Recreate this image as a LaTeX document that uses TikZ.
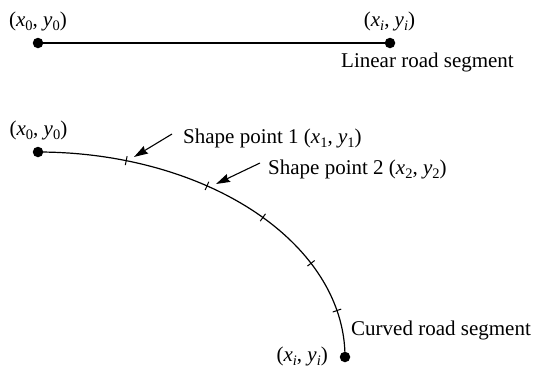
\documentclass[tikz,border=0pt]{standalone}
\usepackage{fontspec}
\setmainfont{Liberation Serif}
\usepackage{graphicx}
\usetikzlibrary{arrows.meta}
\newcommand{\iv}[1]{\textit{#1}}
\newcommand{\lo}[1]{\raisebox{-0.22em}{\fontsize{14.5}{14.5}\selectfont #1}}
\tikzset{
  dot/.style={circle,fill=black,inner sep=0pt,minimum size=10.5pt},
  lab/.style={inner sep=0pt,font=\fontsize{21}{25}\selectfont},
  road/.style={line width=1.2pt},
  tick/.style={line width=1pt},
  pointer/.style={line width=1.1pt,-{Stealth[length=14pt,width=8.5pt,inset=1.5pt]}}
}
\begin{document}
\begin{tikzpicture}[x=1pt,y=-1pt]
\useasboundingbox (0,0) rectangle (535,370);
% linear segment
\node[dot] (a0) at (38,43) {};
\node[dot] (ai) at (390,43) {};
\draw[road] (a0.center) -- (ai.center);
\node[lab,anchor=base] (la0) at (38,26) {(\iv{x}\lo{0}, \iv{y}\lo{0})};
\node[lab,anchor=base] (lai) at (389.5,26) {(\iv{x}\lo{\iv{i}}, \iv{y}\lo{\iv{i}})};
\node[lab,anchor=base west] (lin) at (341,67) {Linear road segment};
% curved segment
\node[dot] (c0) at (38,152) {};
\node[dot] (ci) at (345,357) {};
\draw[road] plot[domain=90:0,samples=150,smooth] ({38+307*cos(\x)},{357-205*sin(\x)});
\foreach \t in {73.3,56.6,42.9,27.2,13.1} {
  \pgfmathsetmacro\px{38+307*cos(\t)}
  \pgfmathsetmacro\py{357-205*sin(\t)}
  \pgfmathsetmacro\nx{2.05*cos(\t)}
  \pgfmathsetmacro\ny{-3.07*sin(\t)}
  \pgfmathsetmacro\nl{veclen(\nx,\ny)}
  \draw[tick] ({\px-4.5*\nx/\nl},{\py-4.5*\ny/\nl}) -- ({\px+4.5*\nx/\nl},{\py+4.5*\ny/\nl});
}
\node[lab,anchor=base] (lc0) at (38.5,135) {(\iv{x}\lo{0}, \iv{y}\lo{0})};
\node[lab,anchor=base east] (lci) at (328,361) {(\iv{x}\lo{\iv{i}}, \iv{y}\lo{\iv{i}})};
\node[lab,anchor=base west] (sp1) at (183,143) {Shape point 1 (\iv{x}\lo{1}, \iv{y}\lo{1})};
\node[lab,anchor=base west] (sp2) at (268,174) {Shape point 2 (\iv{x}\lo{2}, \iv{y}\lo{2})};
\node[lab,anchor=base west] (cur) at (351,335) {Curved road segment};
\coordinate (t1) at (172,134);
\coordinate (h1) at (134,157);
\coordinate (t2) at (260,163);
\coordinate (h2) at (216,184);
\draw[pointer] (t1) -- (h1);
\draw[pointer] (t2) -- (h2);
\end{tikzpicture}
\end{document}
